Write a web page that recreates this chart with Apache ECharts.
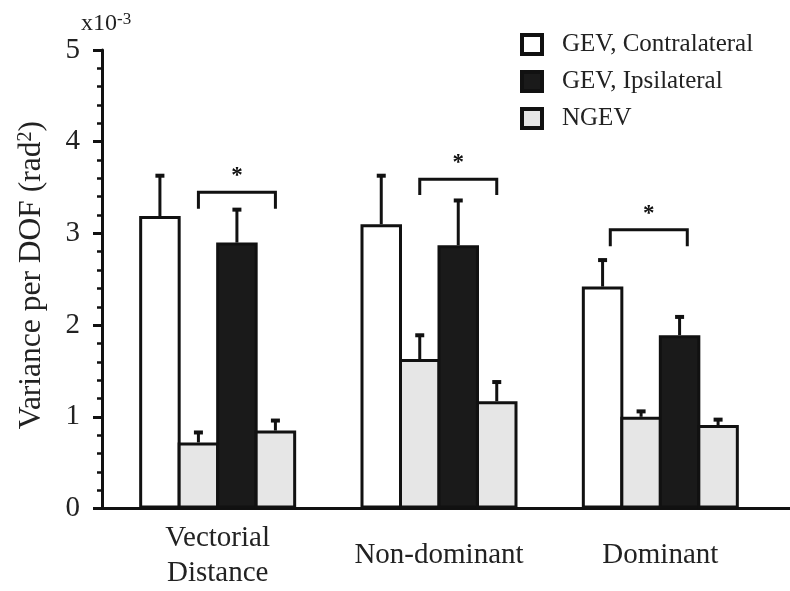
<!DOCTYPE html>
<html>
<head>
<meta charset="utf-8">
<script src="https://cdn.jsdelivr.net/npm/echarts@6/dist/echarts.min.js"></script>
<style>html,body{margin:0;padding:0;background:#fff;}#c{width:790px;height:591px;}</style>
</head>
<body>
<div id="c"></div>
<script>
// ---- data ----
const categories = ['Vectorial\nDistance', 'Non-dominant', 'Dominant'];
const seriesNames = ['GEV, Contralateral', 'NGEV', 'GEV, Ipsilateral', 'NGEV'];
const legendNames = ['GEV, Contralateral', 'GEV, Ipsilateral', 'NGEV'];
const gevContra = [3.19, 3.10, 2.42];
const gevContraErr = [0.45, 0.54, 0.30];
const ngevA = [0.72, 1.63, 1.00];
const ngevAErr = [0.12, 0.27, 0.07];
const gevIpsi = [2.90, 2.87, 1.89];
const gevIpsiErr = [0.37, 0.50, 0.21];
const ngevB = [0.85, 1.17, 0.91];
const ngevBErr = [0.12, 0.22, 0.07];
// significance brackets: group, from bar slot, to bar slot, bracket level, leg drop
const sigGroup = [0, 1, 2];
const sigFrom = [1, 1, 0.2];
const sigTo = [3, 3, 2.2];
const sigLevel = [3.45, 3.59, 3.04];
const sigLeg = [0.18, 0.17, 0.18];
const sigLabel = ['*', '*', '*'];

// ---- style ----
const FONT = 'Liberation Serif';
const INK = '#111';
const BW = 38.5;       // visible bar pitch
const BORDER = 3;
const fills = ['#ffffff', '#e6e6e6', '#1a1a1a', '#e6e6e6'];
const values = [gevContra, ngevA, gevIpsi, ngevB];
const errors = [gevContraErr, ngevAErr, gevIpsiErr, ngevBErr];

const chart = echarts.init(document.getElementById('c'));

const slotW = BW + BORDER;
const barSeries = values.map((vals, s) => ({
  type: 'bar', name: seriesNames[s], data: vals,
  xAxisIndex: 0, yAxisIndex: 0,
  barWidth: slotW, barGap: (-BORDER / slotW * 100).toFixed(3) + '%',
  itemStyle: { color: fills[s], borderColor: INK, borderWidth: BORDER },
  emphasis: { disabled: true }, z: 2
}));

const errSeries = values.map((vals, s) => ({
  type: 'custom', name: 'err' + s, xAxisIndex: 0, yAxisIndex: 0, z: 3,
  data: vals.map((v, i) => [i, v, errors[s][i]]),
  encode: { x: 0, y: 1 },
  renderItem: function (params, api) {
    const c = api.coord([api.value(0), api.value(1)]);
    const t = api.coord([api.value(0), api.value(1) + api.value(2)]);
    const x = c[0] + (s - 1.5) * BW;
    return { type: 'group', children: [
      { type: 'line', shape: { x1: x, y1: c[1], x2: x, y2: t[1] }, style: { stroke: INK, lineWidth: 3 } },
      { type: 'rect', shape: { x: x - 4.5, y: t[1] - 1, width: 9, height: 4 }, style: { fill: INK } }
    ]};
  }
}));

const sigSeries = {
  type: 'custom', name: 'sig', xAxisIndex: 0, yAxisIndex: 0, z: 4,
  data: sigGroup.map((g, i) => [g, sigLevel[i], sigFrom[i], sigTo[i], sigLeg[i]]),
  encode: { x: 0, y: 1 },
  renderItem: function (params, api) {
    const g = api.value(0);
    const top = api.coord([g, api.value(1)]);
    const leg = api.coord([g, api.value(1) - api.value(4)]);
    const xa = top[0] + (api.value(2) - 1.5) * BW;
    const xb = top[0] + (api.value(3) - 1.5) * BW;
    return { type: 'group', children: [
      { type: 'polyline', shape: { points: [[xa, leg[1]], [xa, top[1]], [xb, top[1]], [xb, leg[1]]] },
        style: { stroke: INK, lineWidth: 3, fill: null } },
      { type: 'text', style: { text: sigLabel[params.dataIndex], x: (xa + xb) / 2, y: top[1] - 16,
        align: 'center', verticalAlign: 'middle', font: 'bold 23px ' + FONT, fill: INK } }
    ]};
  }
};

chart.setOption({
  animation: false,
  title: {
    text: 'x10{s|-3}', left: 81, top: 11, padding: 0,
    textStyle: { fontFamily: FONT, fontSize: 24, fontWeight: 'normal', color: '#222',
      rich: { s: { fontFamily: FONT, fontSize: 17, color: '#222', verticalAlign: 'top', padding: [0, 0, 9, 0] } } }
  },
  legend: {
    data: legendNames, orient: 'vertical', left: 520, top: 32, padding: 0,
    itemWidth: 20, itemHeight: 19, itemGap: 12, selectedMode: false,
    icon: 'rect',
    itemStyle: { borderColor: INK, borderWidth: 4 },
    textStyle: { fontFamily: FONT, fontSize: 25, lineHeight: 25, color: '#222', padding: [0, 0, 0, 15] }
  },
  grid: [
    { left: 107, right: 19, top: 50, bottom: 82.5 },
    { left: 102, right: 0, top: 50, bottom: 82.5 }
  ],
  xAxis: [
    { type: 'category', gridIndex: 0, data: categories,
      axisLine: { show: false }, axisTick: { show: false },
      axisLabel: { fontFamily: FONT, fontSize: 29, lineHeight: 35, color: '#222', verticalAlign: 'middle', margin: 47, interval: 0 } },
    { type: 'value', gridIndex: 1, min: 0, max: 1,
      axisLine: { show: true, lineStyle: { color: INK, width: 3 } },
      axisTick: { show: false }, axisLabel: { show: false }, splitLine: { show: false } }
  ],
  yAxis: [
    { type: 'value', gridIndex: 0, min: 0, max: 5, interval: 1, offset: 5,
      name: 'Variance per DOF (rad{sup|2})', nameLocation: 'middle', nameRotate: 90, nameGap: 54,
      nameTextStyle: { fontFamily: FONT, fontSize: 31.5, color: '#222', padding: [0, 0, 0, 8],
        rich: { sup: { fontFamily: FONT, fontSize: 20, color: '#222', verticalAlign: 'top' } } },
      axisLine: { show: true, lineStyle: { color: INK, width: 3 } },
      axisTick: { show: true, inside: false, length: 9, lineStyle: { color: INK, width: 3 } },
      minorTick: { show: true, splitNumber: 5, length: 5, lineStyle: { color: INK, width: 2.5 } },
      splitLine: { show: false }, minorSplitLine: { show: false },
      axisLabel: { fontFamily: FONT, fontSize: 29, color: '#222', margin: 22 } },
    { type: 'value', gridIndex: 1, min: 0, max: 1, show: false }
  ],
  series: [...barSeries, ...errSeries, sigSeries]
});
</script>
</body>
</html>
